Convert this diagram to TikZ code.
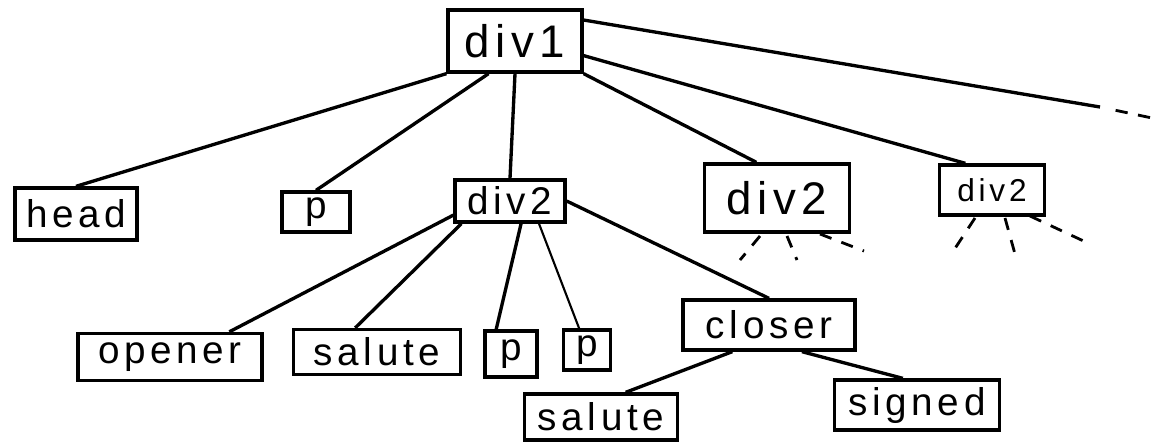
\documentclass[tikz,border=0pt]{standalone}
\usepackage{fontspec}
\setmainfont{Liberation Sans}[LetterSpace=12]
\usetikzlibrary{calc}
\begin{document}
\begin{tikzpicture}[x=0.02cm,y=-0.02cm,
  box/.style={draw,line width=1.9pt,inner sep=0pt,font=\fontsize{22}{24}\selectfont},
  edge/.style={line width=1.9pt},
  stub/.style={line width=1.6pt,dash pattern=on 7pt off 6pt}]
\useasboundingbox (0,0) rectangle (1154,441);
\node[box,minimum width=2.68cm,minimum height=1.24cm,font=\fontsize{26}{28}\selectfont] (div1) at (515,41) {div1};
\node[box,minimum width=2.44cm,minimum height=1.04cm] (head) at (76,214) {head};
\node[box,minimum width=1.36cm,minimum height=0.8cm] (p1) at (316,212) {p};
\node[box,minimum width=2.2cm,minimum height=0.84cm] (div2) at (510,201) {div2};
\node[box,minimum width=2.9cm,minimum height=1.36cm,font=\fontsize{26}{28}\selectfont] (div2b) at (777,198) {div2};
\node[box,minimum width=2.1cm,minimum height=1.0cm,font=\fontsize{18}{20}\selectfont] (div2c) at (992,190) {div2};
\node[box,minimum width=3.68cm,minimum height=0.94cm] (opener) at (170,357) {opener};
\node[box,minimum width=3.34cm,minimum height=0.9cm] (salute1) at (377,352) {salute};
\node[box,minimum width=1.04cm,minimum height=0.92cm] (p2) at (511,354) {p};
\node[box,minimum width=0.94cm,minimum height=0.8cm] (p3) at (587,350) {p};
\node[box,minimum width=3.44cm,minimum height=1.0cm] (closer) at (769,325) {closer};
\node[box,minimum width=3.06cm,minimum height=0.92cm] (salute2) at (601,417) {salute};
\node[box,minimum width=3.3cm,minimum height=1.0cm] (signed) at (917,405) {signed};
% div1 edges
\draw[edge] (div1.south west) -- (head.north);
\draw[edge] (div1.231) -- (p1.north);
\draw[edge] (div1.south) -- (div2.north);
\draw[edge] (div1.south east) -- (div2b.120);
\draw[edge] (div1.-12) -- (div2c.135);
\coordinate (more) at (1100,107);
\coordinate (moreend) at (1152,118);
\draw[edge] (div1.17) -- (more);
\draw[stub] ($(more)!0.3!(moreend)$) -- (moreend);
% div2 edges
\draw[edge] (div2.194) -- (opener.23);
\draw[edge] (div2.205) -- (salute1.132);
\draw[edge] (div2.-64) -- (p2.121);
\draw[edge,line width=1.2pt] (div2.-38) -- (p3.110);
\draw[edge] (div2.east) -- (closer.north);
% closer edges
\draw[edge] (closer.216) -- (salute2.45);
\draw[edge] (closer.-39) -- (signed.118);
% dashed stubs
\coordinate (b1s) at (760,236); \coordinate (b1e) at (740,260);
\coordinate (b2s) at (787,236); \coordinate (b2e) at (797,260);
\coordinate (b3s) at (820,234); \coordinate (b3e) at (864,251);
\coordinate (c1s) at (975,218); \coordinate (c1e) at (950,256);
\coordinate (c2s) at (1005,218); \coordinate (c2e) at (1015,254);
\coordinate (c3s) at (1030,216); \coordinate (c3e) at (1090,244);
\foreach \s/\e in {b1s/b1e,b2s/b2e,b3s/b3e,c1s/c1e,c2s/c2e,c3s/c3e}
  \draw[stub] (\s) -- (\e);
\end{tikzpicture}
\end{document}
